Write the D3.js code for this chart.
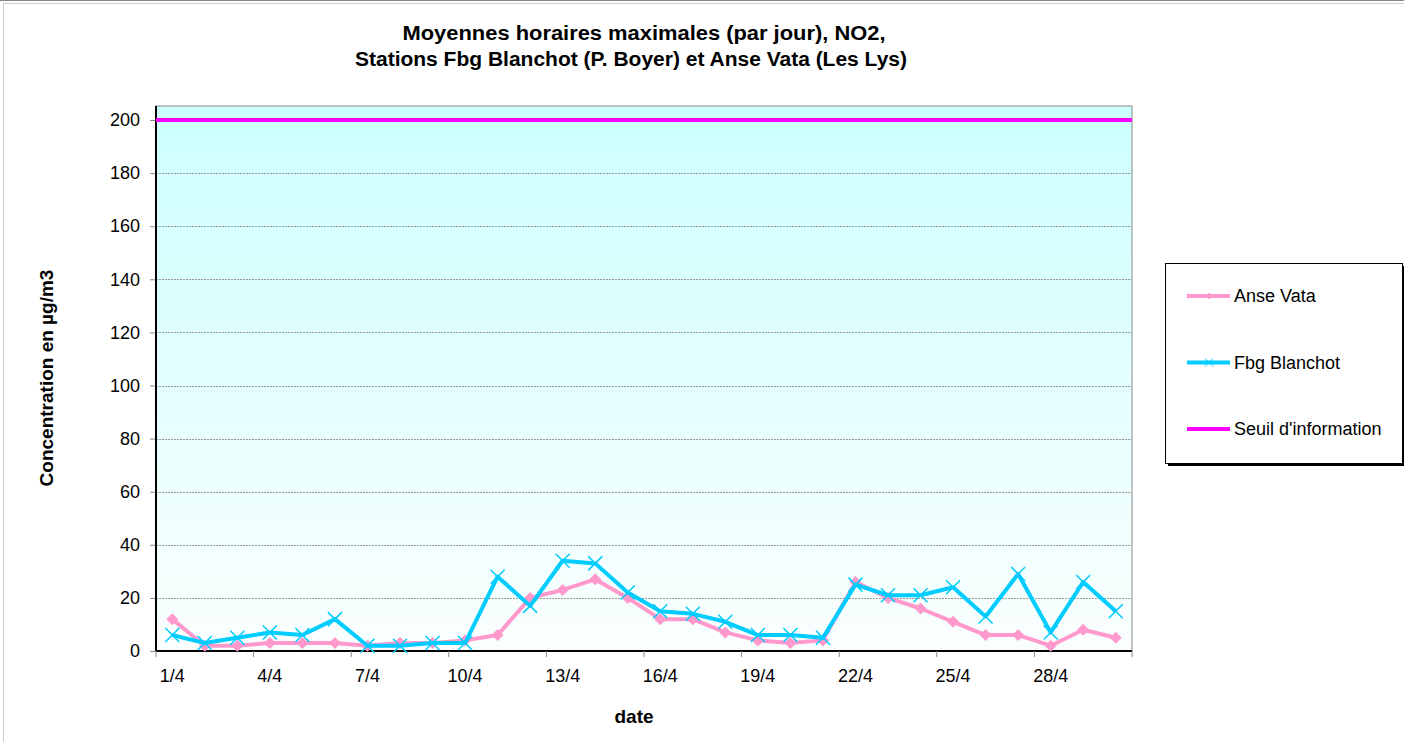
<!DOCTYPE html>
<html lang="fr">
<head>
<meta charset="utf-8">
<title>NO2 Moyennes horaires maximales</title>
<script src="https://cdn.jsdelivr.net/npm/d3@7"></script>
<style>
  body { margin: 0; background: #fff; }
  text { font-family: "Liberation Sans", Arial, sans-serif; }
</style>
</head>
<body>
<script>
// jours d'avril
var days = d3.range(1, 31).map(function(d) { return d + "/4"; });
var anseVata = [12, 2, 2, 3, 3, 3, 2, 3, 3, 4, 6, 20, 23, 27, 20, 12, 12, 7, 4, 3, 4, 26, 20, 16, 11, 6, 6, 2, 8, 5];
var fbgBlanchot = [6, 3, 5, 7, 6, 12, 2, 2, 3, 3, 28, 17, 34, 33, 22, 15, 14, 11, 6, 6, 5, 25, 21, 21, 24, 13, 29, 7, 26, 15];
var seuil = 200;
var yTicks = [0, 20, 40, 60, 80, 100, 120, 140, 160, 180, 200];
var xTickLabels = days.filter(function(d, i) { return i % 3 === 0; });

var w = 1404, h = 742;
var mLeft = 156, mRight = 1132, mTop = 106, mBottom = 651;

var svg = d3.select("body").append("svg").attr("width", w).attr("height", h);

// cadre
svg.append("line").attr("x1", 0).attr("x2", w).attr("y1", 0.5).attr("y2", 0.5).attr("stroke", "#888");
svg.append("rect").attr("x", 3.5).attr("y", 3.5).attr("width", w).attr("height", h)
  .attr("fill", "none").attr("stroke", "#ccc");

var x = d3.scaleBand().domain(days).range([mLeft, mRight]);
var y = d3.scaleLinear().domain([0, 200]).range([mBottom, 120]);

// fond dégradé
var grad = svg.append("defs").append("linearGradient").attr("id", "bg")
  .attr("x1", 0).attr("y1", 0).attr("x2", 0).attr("y2", 1);
grad.append("stop").attr("offset", "0%").attr("stop-color", "#ccffff");
grad.append("stop").attr("offset", "100%").attr("stop-color", "#fafffe");
svg.append("rect").attr("x", mLeft).attr("y", mTop).attr("width", mRight - mLeft).attr("height", mBottom - mTop)
  .attr("fill", "url(#bg)").attr("stroke", "#888");

// grille
svg.append("g").selectAll("line").data(yTicks.slice(1)).join("line")
  .attr("x1", mLeft).attr("x2", mRight)
  .attr("y1", function(d) { return Math.round(y(d)) + 0.5; })
  .attr("y2", function(d) { return Math.round(y(d)) + 0.5; })
  .attr("stroke", "#999").attr("stroke-dasharray", "2,1");

// axe Y
var yAxis = d3.axisLeft(y).tickValues(yTicks).tickSize(6).tickPadding(10);
var gy = svg.append("g").attr("transform", "translate(" + mLeft + ",0)").call(yAxis);
gy.select(".domain").remove();
gy.append("line").attr("y1", mTop).attr("y2", mBottom).attr("stroke", "#000").attr("stroke-width", 2);
gy.selectAll(".tick line").attr("stroke", "#888");
gy.selectAll("text").attr("font-size", 18).attr("fill", "#000")
  .style("font-family", "'Liberation Sans', Arial, sans-serif");

// axe X : graduations entre catégories, tous les 3 jours
var gx = svg.append("g").attr("transform", "translate(0," + mBottom + ")");
gx.append("line").attr("x1", mLeft).attr("x2", mRight).attr("stroke", "#000").attr("stroke-width", 2);
gx.selectAll(".tk").data(xTickLabels.concat(["end"])).join("line").attr("class", "tk")
  .attr("x1", function(d) { return d === "end" ? mRight : x(d); })
  .attr("x2", function(d) { return d === "end" ? mRight : x(d); })
  .attr("y1", 0).attr("y2", 6).attr("stroke", "#888");
gx.selectAll("text").data(xTickLabels).join("text")
  .attr("x", function(d) { return x(d) + x.bandwidth() / 2; })
  .attr("y", 31).attr("text-anchor", "middle").attr("font-size", 18).text(function(d) { return d; });

// seuil
svg.append("line").attr("x1", mLeft).attr("x2", mRight)
  .attr("y1", y(seuil)).attr("y2", y(seuil)).attr("stroke", "#ff00ff").attr("stroke-width", 4);

var cx = function(d, i) { return x(days[i]) + x.bandwidth() / 2; };
var line = d3.line().x(cx).y(function(d) { return y(d); });

// Anse Vata
svg.append("path").datum(anseVata).attr("d", line).attr("fill", "none")
  .attr("stroke", "#ff99cc").attr("stroke-width", 4).attr("stroke-linejoin", "round");
svg.append("g").selectAll("path").data(anseVata).join("path")
  .attr("transform", function(d, i) { return "translate(" + cx(d, i) + "," + y(d) + ")"; })
  .attr("d", "M0,-6L6,0L0,6L-6,0Z").attr("fill", "#ff99cc");

// Fbg Blanchot
svg.append("path").datum(fbgBlanchot).attr("d", line).attr("fill", "none")
  .attr("stroke", "#00ccff").attr("stroke-width", 4).attr("stroke-linejoin", "round");
svg.append("g").selectAll("path").data(fbgBlanchot).join("path")
  .attr("transform", function(d, i) { return "translate(" + cx(d, i) + "," + y(d) + ")"; })
  .attr("d", "M-7,-7L7,7M-7,7L7,-7").attr("stroke", "#00ccff").attr("stroke-width", 1.5);

// titres
svg.append("text").attr("x", 644).attr("y", 40).attr("text-anchor", "middle")
  .attr("font-size", 20).attr("font-weight", "bold")
  .attr("textLength", 483).attr("lengthAdjust", "spacingAndGlyphs")
  .text("Moyennes horaires maximales (par jour), NO2,");
svg.append("text").attr("x", 631).attr("y", 66).attr("text-anchor", "middle")
  .attr("font-size", 20).attr("font-weight", "bold")
  .attr("textLength", 552).attr("lengthAdjust", "spacingAndGlyphs")
  .text("Stations Fbg Blanchot (P. Boyer) et Anse Vata (Les Lys)");
svg.append("text").attr("x", 634).attr("y", 723).attr("text-anchor", "middle")
  .attr("font-size", 19).attr("font-weight", "bold").text("date");
svg.append("text").attr("transform", "translate(53,378) rotate(-90)").attr("text-anchor", "middle")
  .attr("font-size", 19).attr("font-weight", "bold").text("Concentration en µg/m3");

// légende
var lg = svg.append("g");
lg.append("rect").attr("x", 1168).attr("y", 266).attr("width", 237).attr("height", 200).attr("fill", "#000");
lg.append("rect").attr("x", 1165.5).attr("y", 263.5).attr("width", 237).attr("height", 200)
  .attr("fill", "#fff").attr("stroke", "#000");
var legend = [
  { name: "Anse Vata", color: "#ff99cc", mark: "M0,-3L3,0L0,3L-3,0Z" },
  { name: "Fbg Blanchot", color: "#00ccff", mark: "M-4,-4L4,4M-4,4L4,-4" },
  { name: "Seuil d'information", color: "#ff00ff", mark: null }
];
var rows = lg.selectAll(".row").data(legend).join("g").attr("class", "row")
  .attr("transform", function(d, i) { return "translate(0," + (296 + i * 66.5) + ")"; });
rows.append("line").attr("x1", 1187).attr("x2", 1230).attr("stroke", function(d) { return d.color; })
  .attr("stroke-width", 4);
rows.filter(function(d) { return d.mark; }).append("path")
  .attr("transform", "translate(1209,0)").attr("d", function(d) { return d.mark; })
  .attr("fill", function(d) { return d.color; }).attr("stroke", function(d) { return d.color; });
rows.append("text").attr("x", 1234).attr("y", 6).attr("font-size", 18).text(function(d) { return d.name; });
</script>
</body>
</html>
